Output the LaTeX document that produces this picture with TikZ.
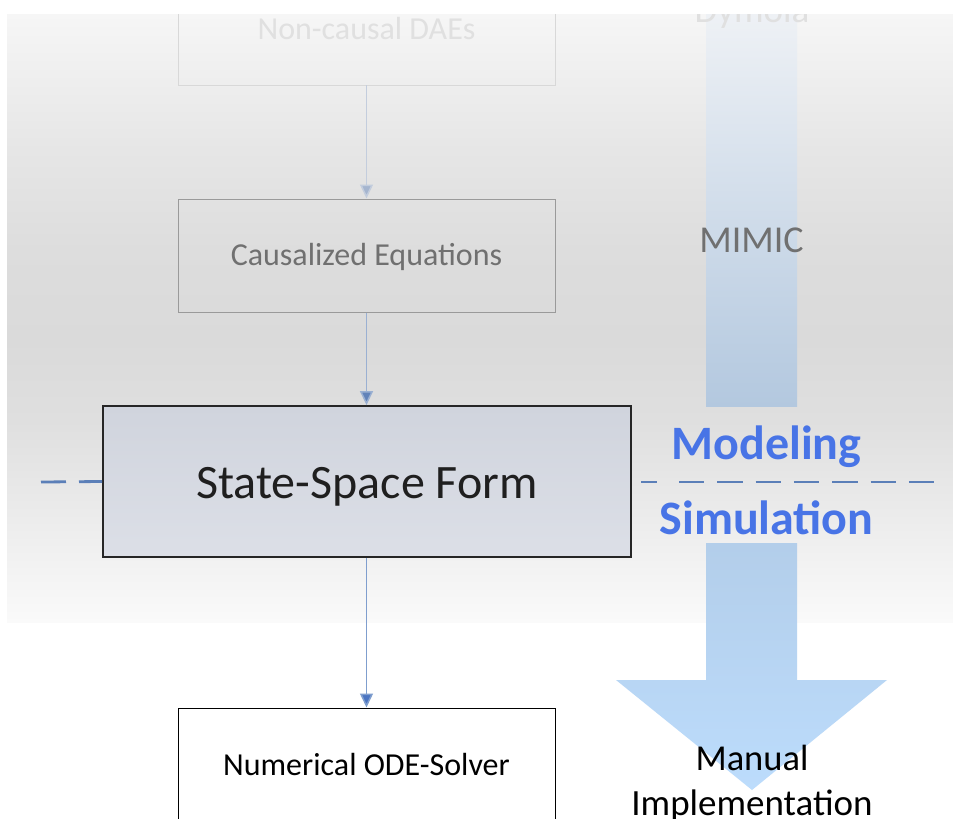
\documentclass[tikz,border=0pt]{standalone}
\usepackage{fontspec}
\setmainfont{Carlito}
\usetikzlibrary{arrows.meta}
\definecolor{bgA}{HTML}{FAFAFA}
\definecolor{bgB}{HTML}{ECECEC}
\definecolor{bgC}{HTML}{DFDFDF}
\definecolor{bgD}{HTML}{DADADA}
\definecolor{bgE}{HTML}{DDDDDD}
\definecolor{bgF}{HTML}{E6E6E6}
\definecolor{bgG}{HTML}{F6F6F6}
\pgfdeclareverticalshading{panelshade}{100bp}{color(0bp)=(bgA); color(25bp)=(bgA);
  color(33.4bp)=(bgB); color(41.6bp)=(bgC); color(48.2bp)=(bgD); color(55.6bp)=(bgE);
  color(63.8bp)=(bgF); color(75bp)=(bgG); color(100bp)=(bgG)}
\definecolor{bartop}{HTML}{EEF1F5}
\definecolor{barbot}{HTML}{B3C8DF}
\definecolor{arrtop}{HTML}{B3CEEA}
\definecolor{arrbot}{HTML}{BCDCFC}
\definecolor{fadetext}{HTML}{E0E0E0}
\definecolor{fadeline}{HTML}{D8D8D8}
\definecolor{graytext}{HTML}{707070}
\definecolor{graybox}{HTML}{9A9A9A}
\definecolor{ssftop}{HTML}{D0D4DD}
\definecolor{ssfbot}{HTML}{DCDFE7}
\definecolor{dashblue}{HTML}{5B7FB8}
\definecolor{labelblue}{HTML}{4874E6}
\definecolor{conA}{HTML}{C3CDDD}
\definecolor{conAtip}{HTML}{A5B5CF}
\definecolor{conB}{HTML}{9AB0D2}
\definecolor{conBtip}{HTML}{6283B9}
\definecolor{conC}{HTML}{7F9ECE}
\definecolor{conCtip}{HTML}{4A74C2}
\tikzset{
  stagebox/.style={draw, minimum width=377pt, minimum height=113pt, inner sep=0pt,
    font=\fontsize{32}{38}\selectfont},
  conn/.style={line width=1.5pt},
  lbl/.style={inner sep=0pt, anchor=base},
  sepline/.style={dashblue, line width=2.8pt},
}
\begin{document}
\begin{tikzpicture}[x=1pt,y=-1pt]
\useasboundingbox (0,0) rectangle (953,819);
\clip (0,0) rectangle (953,819);
\fill[white] (0,0) rectangle (953,819);
% gray panel
\shade[shading=panelshade] (7,14) rectangle (953,622);
% blue bar (modeling tools)
\shade[top color=bartop, bottom color=barbot] (706,14) rectangle (797,406);
% big arrow
\shade[top color=arrtop, bottom color=arrbot]
  (706,543) -- (797,543) -- (797,680) -- (887,680) -- (752,790) -- (616,680) -- (706,680) -- cycle;
% labels on the bar
\node[lbl, text=fadetext, font=\fontsize{37}{40}\selectfont] (dym) at (752,22) {Dymola};
\node[lbl, text=graytext, font=\fontsize{38}{42}\selectfont] (mim) at (751.5,252) {MIMIC};
\node[lbl, text=labelblue, font=\bfseries\fontsize{48}{52}\selectfont] (mod) at (766.5,459) {Modeling};
\node[lbl, text=labelblue, font=\bfseries\fontsize{48}{52}\selectfont] (sim) at (766.5,534) {Simulation};
\node[lbl, text=black, font=\fontsize{36.5}{40}\selectfont] (man) at (752,770) {Manual};
\node[lbl, text=black, font=\fontsize{37}{40}\selectfont] (imp) at (752,815) {Implementation};
% stage boxes
\node[stagebox, draw=fadeline, text=fadetext, line width=0.8pt] (dae) at (366.5,28.5) {Non-causal DAEs};
\node[stagebox, draw=graybox, text=graytext, line width=1pt, text height=19pt, text depth=0pt] (cau) at (366.5,255.5) {Causalized Equations};
\node[draw=black!85, line width=1.8pt, top color=ssftop, bottom color=ssfbot,
  minimum width=528pt, minimum height=151pt, inner sep=0pt, text=black!88,
  text height=33pt, text depth=0pt,
  font=\fontsize{48}{52}\selectfont] (ssf) at (367,481.5) {State-Space Form};
\node[stagebox, draw=black, fill=white, text=black, line width=1pt] (ode) at (366.5,764.5) {Numerical ODE-Solver};
% connectors
\draw[conn, draw=conA, -{Triangle[width=13pt,length=14pt,fill=conAtip]}] (dae.south) -- (cau.north);
\draw[conn, draw=conB, -{Triangle[width=13pt,length=14pt,fill=conBtip]}] (cau.south) -- (ssf.north -| cau.south);
\draw[conn, draw=conC, -{Triangle[width=13pt,length=14pt,fill=conCtip]}] (ssf.south -| ode.north) -- (ode.north);
% dashed separator
\coordinate (dl0) at (41,482);
\coordinate (dr0) at (641,482);
\coordinate (dr1) at (934.2,482);
\draw[sepline, dash pattern=on 25pt off 13pt] (dl0) -- (ssf.west);
\draw[sepline, dash pattern={on 15.7pt off 22.3pt on 25.3pt off 13pt on 25.3pt off 13pt on 25.3pt off 13pt on 25.3pt off 13pt on 25.3pt off 13pt on 25.3pt off 13pt on 25.3pt off 13pt}] (dr0) -- (dr1);
% white band on top
\fill[white] (0,0) rectangle (953,14);
\end{tikzpicture}
\end{document}
